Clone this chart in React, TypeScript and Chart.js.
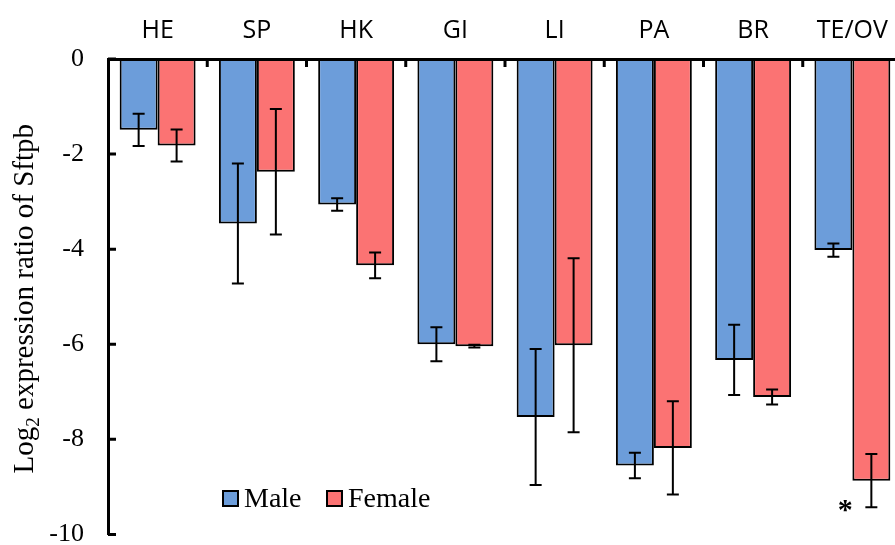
import React, { useEffect, useRef } from "react";
import { Chart, registerables } from "chart.js";

Chart.register(...registerables);

const categories = ["HE", "SP", "HK", "GI", "LI", "PA", "BR", "TE/OV"];
const maleValues = [-1.49, -3.46, -3.06, -6.0, -7.53, -8.55, -6.33, -4.02];
const maleErrors = [0.34, 1.26, 0.13, 0.36, 1.43, 0.27, 0.74, 0.14];
const femaleValues = [-1.82, -2.37, -4.34, -6.04, -6.02, -8.18, -7.11, -8.87];
const femaleErrors = [0.335, 1.32, 0.27, 0.03, 1.83, 0.98, 0.16, 0.56];
const yTicks = [0, -2, -4, -6, -8, -10];
const seriesNames = ["Male", "Female"];
const seriesColors = ["#6C9DDA", "#FB7373"];
const significant = [false, false, false, false, false, false, false, true];

const SERIF = "'Liberation Serif', 'Times New Roman', serif";
const SANS = "'Open Sans', 'Liberation Sans', sans-serif";

const overlayPlugin = {
  id: "overlay",
  afterDatasetsDraw(chart: any) {
    const ctx = chart.ctx;
    const x = chart.scales.x;
    const y = chart.scales.y;
    const area = chart.chartArea;
    ctx.save();
    // error bars
    const errs = [maleErrors, femaleErrors];
    const vals = [maleValues, femaleValues];
    ctx.strokeStyle = "#000";
    ctx.lineWidth = 2;
    for (let d = 0; d < 2; d++) {
      const meta = chart.getDatasetMeta(d);
      meta.data.forEach((bar: any, i: number) => {
        const v = vals[d][i];
        const e = errs[d][i];
        const yt = y.getPixelForValue(v + e);
        const yb = y.getPixelForValue(v - e);
        const cx = bar.x;
        ctx.beginPath();
        ctx.moveTo(cx, yt);
        ctx.lineTo(cx, yb);
        ctx.moveTo(cx - 6, yt);
        ctx.lineTo(cx + 6, yt);
        ctx.moveTo(cx - 6, yb);
        ctx.lineTo(cx + 6, yb);
        ctx.stroke();
      });
    }
    // inward tick marks on y axis
    ctx.lineWidth = 3;
    ctx.beginPath();
    yTicks.forEach((t) => {
      const py = y.getPixelForValue(t);
      ctx.moveTo(area.left, py);
      ctx.lineTo(area.left + 8, py);
    });
    // inward tick marks on x axis (between categories)
    for (let i = 0; i < categories.length - 1; i++) {
      const px = (x.getPixelForValue(i) + x.getPixelForValue(i + 1)) / 2;
      ctx.moveTo(px, area.top);
      ctx.lineTo(px, area.top + 8);
    }
    ctx.stroke();
    // asterisks
    ctx.fillStyle = "#000";
    ctx.font = `bold 30px ${SERIF}`;
    ctx.textAlign = "center";
    ctx.textBaseline = "alphabetic";
    const femMeta = chart.getDatasetMeta(1);
    significant.forEach((s, i) => {
      if (!s) return;
      const bx = femMeta.data[i].x - 26;
      const by = y.getPixelForValue(femaleValues[i] - femaleErrors[i]) + 12;
      ctx.fillText("*", bx, by);
    });
    // legend
    const legendX = [223, 327];
    const legendY = 491;
    ctx.font = `28px ${SERIF}`;
    ctx.textAlign = "left";
    for (let d = 0; d < 2; d++) {
      ctx.fillStyle = seriesColors[d];
      ctx.fillRect(legendX[d], legendY, 15, 15);
      ctx.lineWidth = 2;
      ctx.strokeStyle = "#000";
      ctx.strokeRect(legendX[d], legendY, 15, 15);
      ctx.fillStyle = "#000";
      ctx.fillText(seriesNames[d], legendX[d] + 21, legendY + 16);
    }
    // y-axis title with subscript
    const bigFont = `29px ${SERIF}`;
    const subFont = `19px ${SERIF}`;
    const parts = [
      { t: "Log", f: bigFont, dy: 0 },
      { t: "2", f: subFont, dy: 6 },
      { t: " expression ratio of Sftpb", f: bigFont, dy: 0 },
    ];
    let total = 0;
    parts.forEach((p) => {
      ctx.font = p.f;
      total += ctx.measureText(p.t).width;
    });
    ctx.translate(33, (area.top + area.bottom) / 2 + total / 2 + 2);
    ctx.rotate(-Math.PI / 2);
    let cx = 0;
    parts.forEach((p) => {
      ctx.font = p.f;
      ctx.fillText(p.t, cx, p.dy);
      cx += ctx.measureText(p.t).width;
    });
    ctx.restore();
  },
};

export default function App() {
  const ref = useRef<HTMLCanvasElement>(null);
  useEffect(() => {
    if (!ref.current) return;
    const chart = new Chart(ref.current, {
      type: "bar",
      data: {
        labels: categories,
        datasets: [
          {
            label: seriesNames[0],
            data: maleValues,
            backgroundColor: seriesColors[0],
            borderColor: "#000",
            borderWidth: 2,
            borderSkipped: false,
          },
          {
            label: seriesNames[1],
            data: femaleValues,
            backgroundColor: seriesColors[1],
            borderColor: "#000",
            borderWidth: 2,
            borderSkipped: false,
          },
        ],
      },
      options: {
        responsive: false,
        animation: false,
        devicePixelRatio: 1,
        layout: { padding: { left: 0, right: 3, top: 0, bottom: 9 } },
        plugins: { legend: { display: false }, tooltip: { enabled: false } },
        datasets: { bar: { categoryPercentage: 0.765, barPercentage: 1 } },
        scales: {
          x: {
            position: "top",
            offset: true,
            grid: { display: false, drawTicks: false },
            border: { display: true, color: "#000", width: 3 },
            ticks: {
              color: "#000",
              font: { family: SANS, size: 25 },
              padding: 13,
              maxRotation: 0,
              autoSkip: false,
            },
            afterFit: (s: any) => {
              s.height = 59;
            },
          },
          y: {
            min: -10,
            max: 0,
            grid: { display: false, drawTicks: false },
            border: { display: true, color: "#000", width: 3 },
            ticks: {
              stepSize: 2,
              color: "#000",
              font: { family: SERIF, size: 26 },
              padding: 24,
            },
            afterFit: (s: any) => {
              s.width = 108;
            },
          },
        },
      },
      plugins: [overlayPlugin],
    });
    return () => chart.destroy();
  }, []);
  return (
    <div
      style={{
        position: "fixed",
        left: 0,
        top: 0,
        width: 895,
        height: 545,
        overflow: "hidden",
        background: "#fff",
      }}
    >
      <canvas ref={ref} width={905} height={574} style={{ display: "block" }} />
    </div>
  );
}
